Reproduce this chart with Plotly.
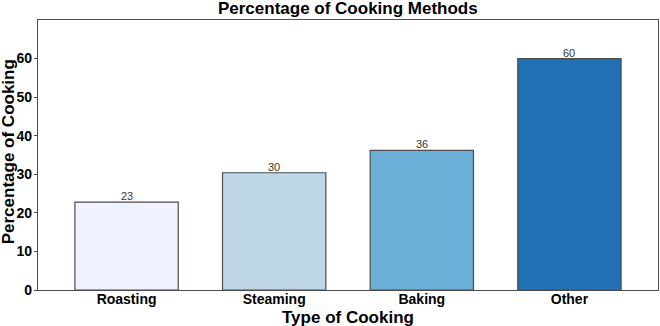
import plotly.graph_objects as go

categories = ["Roasting", "Steaming", "Baking", "Other"]
values = [22.8, 30.4, 36.2, 60.0]
colors = ["#eff3ff", "#bdd7e7", "#6baed6", "#2171b5"]
labels = ["%.0f" % v for v in values]

FONT = "Liberation Sans, Arial"

fig = go.Figure(go.Bar(
    x=categories, y=values,
    marker=dict(color=colors, line=dict(color="#4d4d4d", width=1.2)),
    width=0.7,
    hoverinfo="x+y",
))

for c, v, t in zip(categories, values, labels):
    fig.add_annotation(x=c, y=v, text=t, showarrow=False, yanchor="bottom", yshift=-2,
                       font=dict(size=11, color="#333333", family=FONT))

# axis titles
fig.add_annotation(xref="paper", yref="paper", x=0, y=0.51, xshift=-30, textangle=-90,
                   xanchor="center", yanchor="middle", showarrow=False,
                   text="Percentage of Cooking",
                   font=dict(size=17, color="black", weight="bold", family=FONT))
fig.add_annotation(xref="paper", yref="paper", x=0.5, y=0, yshift=-27,
                   xanchor="center", yanchor="middle", showarrow=False,
                   text="Type of Cooking",
                   font=dict(size=17, color="black", weight="bold", family=FONT))

fig.update_layout(
    width=660, height=326,
    margin=dict(l=38, r=2, t=20, b=36),
    paper_bgcolor="white", plot_bgcolor="white",
    font=dict(family=FONT, color="black"),
    title=dict(text="Percentage of Cooking Methods", x=0.527, xanchor="center",
               y=0.995, yanchor="top", font=dict(size=17, color="black", weight="bold")),
    showlegend=False,
)
fig.update_xaxes(
    range=[-0.6, 3.6],
    showline=True, linecolor="#4d4d4d", linewidth=1.2, mirror=True,
    ticks="", tickfont=dict(size=14, color="black", weight="bold"),
    ticklabelstandoff=-4,
    showgrid=False, automargin=False,
)
fig.update_yaxes(
    range=[0, 70], tickvals=[0, 10, 20, 30, 40, 50, 60],
    showline=True, linecolor="#4d4d4d", linewidth=1.2, mirror=True,
    ticks="outside", ticklen=3, tickcolor="#4d4d4d",
    tickfont=dict(size=14, color="black", weight="bold"),
    ticklabelstandoff=-1,
    showgrid=False, zeroline=False, automargin=False,
)

fig.write_html("out.html")
